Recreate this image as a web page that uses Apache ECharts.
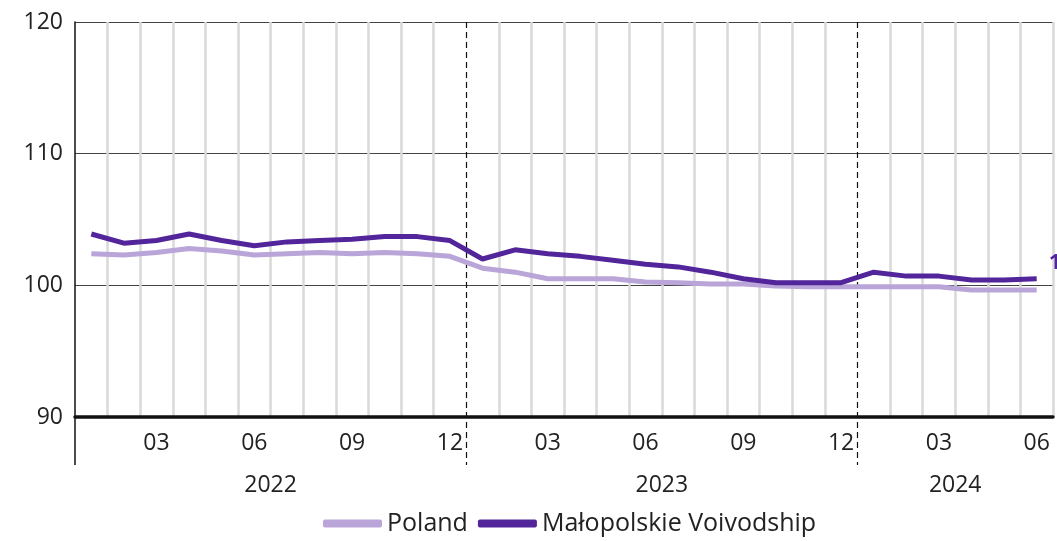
<!DOCTYPE html>
<html>
<head>
<meta charset="utf-8">
<script src="https://cdn.jsdelivr.net/npm/echarts@6/dist/echarts.min.js"></script>
<style>html,body{margin:0;padding:0;background:#fff}#c{width:1057px;height:541px}</style>
</head>
<body>
<div id="c"></div>
<script>
const months = ['01','02','03','04','05','06','07','08','09','10','11','12',
                '01','02','03','04','05','06','07','08','09','10','11','12',
                '01','02','03','04','05','06'];
const years = ['2022','2023','2024'];
const monthsPerYear = [12, 12, 6];
const shownMonths = ['03','06','09','12'];
const poland = [102.4,102.3,102.5,102.8,102.6,102.3,102.4,102.5,102.4,102.5,102.4,102.2,
                101.3,101.0,100.5,100.5,100.5,100.25,100.2,100.1,100.1,99.95,99.9,99.9,
                99.9,99.9,99.9,99.65,99.65,99.65];
const malopolskie = [103.9,103.2,103.4,103.9,103.4,103.0,103.3,103.4,103.5,103.7,103.7,103.4,
                102.0,102.7,102.4,102.2,101.9,101.6,101.4,101.0,100.5,100.2,100.2,100.2,
                101.0,100.7,100.7,100.4,100.4,100.5];
const yTicks = [90, 100, 110, 120];

// derived year boundaries and centres
const boundaries = [];
const centres = [];
let acc = 0;
monthsPerYear.forEach((n, i) => {
  centres.push(acc + n / 2);
  acc += n;
  if (i < monthsPerYear.length - 1) boundaries.push(acc);
});
const total = months.length;

const FONT = 'Open Sans';
const chart = echarts.init(document.getElementById('c'));
chart.setOption({
  animation: false,
  textStyle: { fontFamily: FONT },
  grid: { left: 75, right: 4, top: 22, bottom: 124, containLabel: false },
  legend: {
    bottom: 0,
    left: 318,
    icon: 'roundRect',
    itemWidth: 59,
    itemHeight: 8,
    itemGap: 10,
    textStyle: { fontSize: 25, color: '#222', fontFamily: FONT },
    data: ['Poland', 'Małopolskie Voivodship']
  },
  xAxis: [
    {
      type: 'category',
      data: months,
      boundaryGap: true,
      position: 'bottom',
      axisLine: { show: true, onZero: false, lineStyle: { color: '#111', width: 3.5 } },
      axisTick: { show: false },
      axisLabel: {
        fontSize: 23, color: '#222', margin: 15,
        interval: (i, v) => shownMonths.includes(v)
      },
      splitLine: {
        show: true,
        interval: (i) => !boundaries.includes(i) && i !== 0,
        lineStyle: { color: '#d9d9d9', width: 2.5 }
      },
      z: 3
    },
    {
      type: 'value',
      min: 0, max: total,
      position: 'top',
      axisLine: { show: false },
      axisLabel: { show: false },
      splitLine: { show: false },
      axisTick: {
        show: true, inside: true, length: 443, customValues: boundaries,
        lineStyle: { color: '#111', width: 1.2, type: [6, 4] }
      }
    },
    {
      type: 'value',
      min: 0, max: total,
      position: 'bottom',
      axisLine: { show: false },
      splitLine: { show: false },
      axisTick: {
        show: true, length: 48, customValues: [0],
        lineStyle: { color: '#111', width: 1.5 }
      },
      axisLabel: {
        fontSize: 23, color: '#222', margin: 57,
        customValues: centres,
        formatter: (v) => {
          const idx = centres.findIndex(c => Math.abs(c - v) < 1e-6);
          return idx >= 0 ? years[idx] : '';
        }
      }
    }
  ],
  yAxis: {
    type: 'value',
    min: 90, max: 120, interval: 10,
    axisLine: { show: true, lineStyle: { color: '#111', width: 1.5 } },
    axisTick: { show: false },
    axisLabel: { fontSize: 23, color: '#222', margin: 12 },
    splitLine: { show: true, lineStyle: { color: '#444', width: 1.2 } }
  },
  series: [
    {
      name: 'Poland',
      type: 'line',
      data: poland,
      symbol: 'none',
      color: '#b9a5d8',
      lineStyle: { width: 5, color: '#b9a5d8' },
      z: 4,
      endLabel: {
        show: true, color: '#b9a5d8', fontSize: 22, fontWeight: 'bold',
        offset: [13, 16], formatter: (p) => p.value.toFixed(1).replace('.', ',')
      }
    },
    {
      name: 'Małopolskie Voivodship',
      type: 'line',
      data: malopolskie,
      symbol: 'none',
      color: '#52259b',
      lineStyle: { width: 5, color: '#52259b' },
      z: 5,
      endLabel: {
        show: true, color: '#52259b', fontSize: 22, fontWeight: 'bold',
        offset: [4, -16], formatter: (p) => p.value.toFixed(1).replace('.', ',')
      }
    }
  ]
});
</script>
</body>
</html>
